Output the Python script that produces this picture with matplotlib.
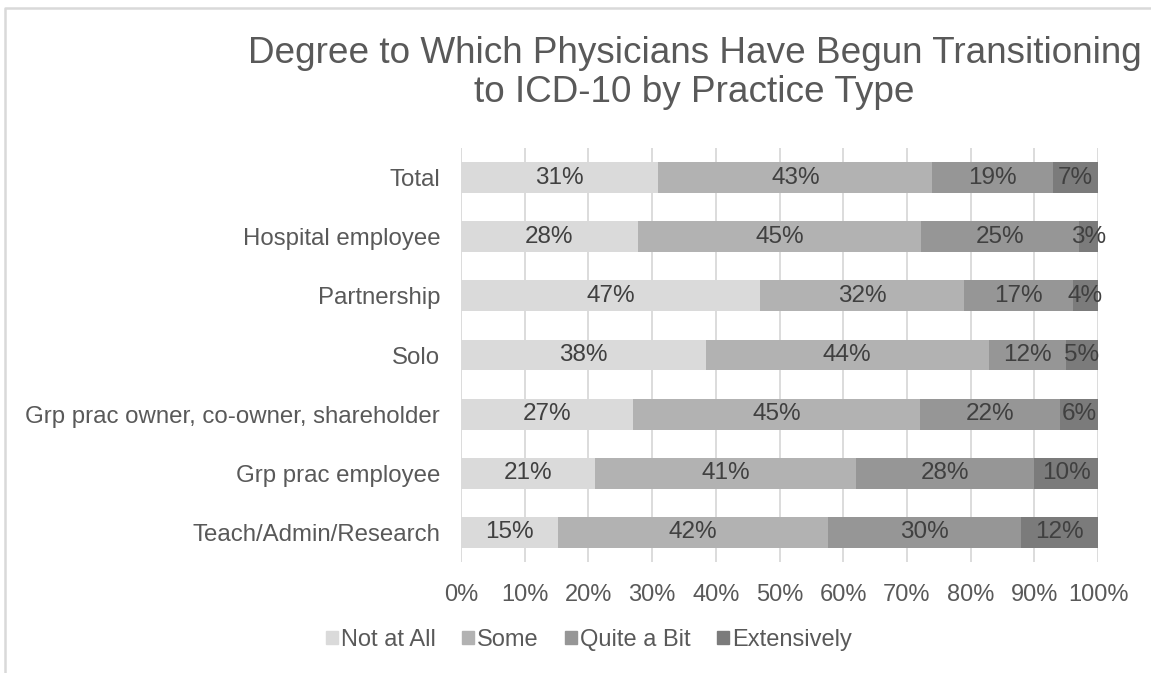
import matplotlib
matplotlib.use("Agg")
import matplotlib.pyplot as plt
from matplotlib.lines import Line2D
import numpy as np

plt.rcParams['font.family'] = ['Liberation Sans', 'DejaVu Sans']

categories = ["Total", "Hospital employee", "Partnership", "Solo",
              "Grp prac owner, co-owner, shareholder", "Grp prac employee",
              "Teach/Admin/Research"]
series_names = ["Not at All", "Some", "Quite a Bit", "Extensively"]
not_at_all = [31, 28, 47, 38, 27, 21, 15]
some = [43, 45, 32, 44, 45, 41, 42]
quite_a_bit = [19, 25, 17, 12, 22, 28, 30]
extensively = [7, 3, 4, 5, 6, 10, 12]
xtick_labels = ["0%", "10%", "20%", "30%", "40%", "50%", "60%", "70%", "80%", "90%", "100%"]

colors = ["#DADADA", "#B2B2B2", "#969696", "#7B7B7B"]
title_lines = ["Degree to Which Physicians Have Begun Transitioning",
               "to ICD-10 by Practice Type"]

data = np.array([not_at_all, some, quite_a_bit, extensively], dtype=float)
totals = data.sum(axis=0)
shares = data / totals

fig = plt.figure(figsize=(11.51, 6.73), dpi=100)
ax = fig.add_axes([461/1151, 1 - 562/673, (1098-461)/1151, (562-148)/673])

y = np.arange(len(categories))
left = np.zeros(len(categories))
for i, name in enumerate(series_names):
    ax.barh(y, shares[i], left=left, height=0.52, color=colors[i], label=name, zorder=3)
    for j in range(len(categories)):
        ax.text(left[j] + shares[i][j] / 2, y[j], f"{int(data[i][j])}%",
                ha="center", va="center", fontsize=17.5, color="#404040", zorder=4)
    left += shares[i]

ax.set_xlim(0, 1)
ax.set_ylim(len(categories) - 0.5, -0.5)
ax.set_xticks(np.linspace(0, 1, 11))
ax.set_xticklabels(xtick_labels, fontsize=17, color="#595959")
ax.set_yticks(y)
ax.set_yticklabels(categories, fontsize=17.3, color="#595959")
ax.tick_params(axis="both", length=0)
ax.tick_params(axis="y", pad=15)
ax.tick_params(axis="x", pad=16)
ax.grid(axis="x", color="#D9D9D9", linewidth=1.3, zorder=0)
for s in ax.spines.values():
    s.set_visible(False)

for line, base in zip(title_lines, [63, 102]):
    fig.text(694.5/1151, 1 - base/673, line, ha="center", va="baseline",
             fontsize=26.6, color="#595959")

handles = [plt.Rectangle((0, 0), 1, 1, color=c) for c in colors]
leg = fig.legend(handles, series_names, loc="center", bbox_to_anchor=(589/1151, 1 - 640/673),
                 ncol=4, frameon=False, fontsize=17, handlelength=0.5, handleheight=0.5,
                 handletextpad=0.15, columnspacing=1.1)
for t in leg.get_texts():
    t.set_color("#595959")

# chart border
fig.add_artist(Line2D([5/1151, 5/1151, 1.0], [0.0, 1 - 8/673, 1 - 8/673],
                      transform=fig.transFigure, color="#D9D9D9", linewidth=1.8))

fig.savefig("out.png", dpi=100)
